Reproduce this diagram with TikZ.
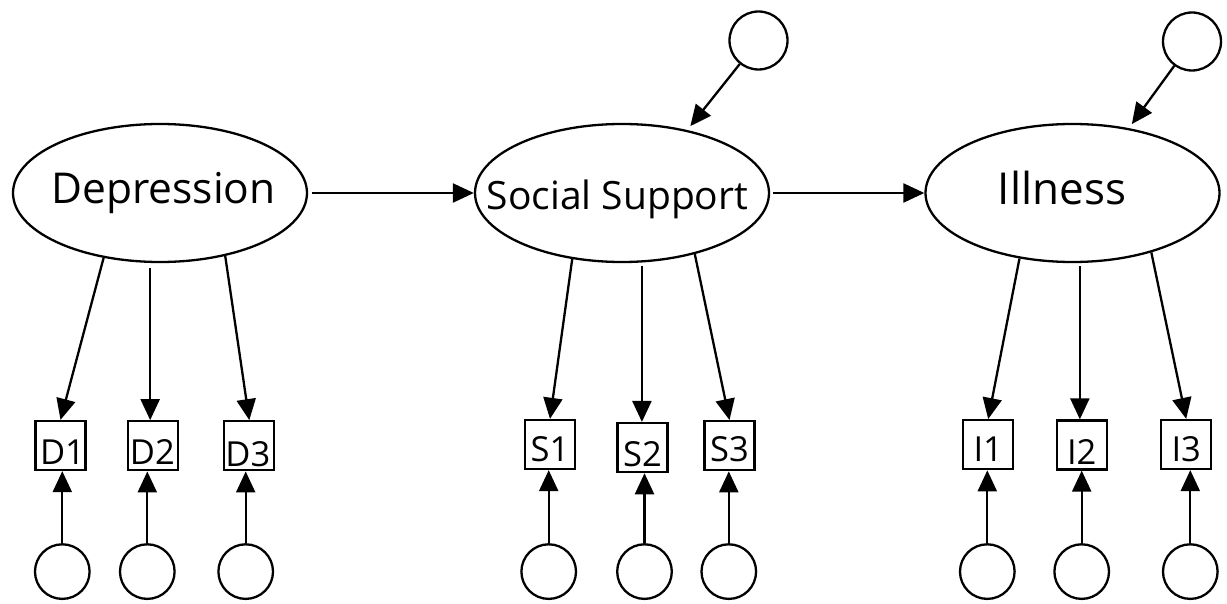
\documentclass[tikz,border=0pt]{standalone}
\usepackage{fontspec}
\setmainfont{Open Sans}
\usetikzlibrary{arrows.meta,shapes.geometric}
\newcommand{\lbltxt}[3]{\raisebox{#2}[0pt][0pt]{\makebox[0pt]{\hspace*{#1}#3}}}
\begin{document}
\begin{tikzpicture}[x=1pt,y=-1pt,line width=2.3pt,
  lat/.style={draw,ellipse,inner sep=0pt,minimum width=294pt,minimum height=138pt},
  obs/.style={draw,rectangle,inner sep=0pt,minimum width=50pt,minimum height=49pt,font=\fontsize{34.5}{34.5}\selectfont},
  err/.style={draw,circle,inner sep=0pt,minimum size=54.6pt},
  derr/.style={draw,circle,inner sep=0pt,minimum size=58pt},
  arr/.style={-{Triangle[length=21pt,width=19pt]}}]
\useasboundingbox (0,0) rectangle (1227,604);

% latent variables
\node[lat,font=\fontsize{42.5}{42.5}\selectfont] (dep) at (160,193) {\lbltxt{7pt}{-11pt}{Depression}};
\node[lat,font=\fontsize{39}{39}\selectfont] (ss) at (622,193) {\lbltxt{-9pt}{-17pt}{Social Support}};
\node[lat,font=\fontsize{44}{44}\selectfont] (ill) at (1072.5,193) {\lbltxt{-21pt}{-12pt}{Illness}};

% disturbances
\node[derr] (zss) at (758.5,40.5) {};
\node[derr] (zill) at (1192,41.5) {};

% indicators
\node[obs] (d1) at (60.5,445.5) {\lbltxt{4pt}{-18.8pt}{D1}};
\node[obs] (d2) at (153.3,445.8) {\lbltxt{-2pt}{-18.5pt}{D2}};
\node[obs] (d3) at (249.3,445.8) {\lbltxt{-3pt}{-21pt}{D3}};
\node[obs] (s1) at (550,444.5) {\lbltxt{0pt}{-17pt}{S1}};
\node[obs] (s2) at (642.5,447.6) {\lbltxt{0pt}{-18.4pt}{S2}};
\node[obs] (s3) at (729.5,445.7) {\lbltxt{0pt}{-16pt}{S3}};
\node[obs] (i1) at (988.2,444.7) {\lbltxt{0pt}{-17pt}{I1}};
\node[obs] (i2) at (1081.7,445) {\lbltxt{0pt}{-19pt}{I2}};
\node[obs] (i3) at (1186.2,444.5) {\lbltxt{0pt}{-17pt}{I3}};

% measurement errors
\node[err] (ed1) at (62.3,571.6) {};
\node[err] (ed2) at (147.3,571.6) {};
\node[err] (ed3) at (245.7,571.6) {};
\node[err] (es1) at (548.7,571.6) {};
\node[err] (es2) at (644.5,571.6) {};
\node[err] (es3) at (728.8,571.6) {};
\node[err] (ei1) at (987.3,571.6) {};
\node[err] (ei2) at (1081.7,571.6) {};
\node[err] (ei3) at (1190.3,571.6) {};

% structural paths
\draw[arr,shorten <=4pt] (dep.east) -- (ss.west);
\draw[arr,shorten <=3pt] (ss.east) -- (ill.west);
\draw[arr,shorten >=5pt] (zss) -- (ss.44);
\draw[arr,shorten >=5pt] (zill) -- (ill.49);

% loadings
\draw[arr] (dep.-131) -- (d1.north);
\draw[arr,shorten <=5pt] (dep.-98) -- (dep.-98 |- d2.north);
\draw[arr] (dep.-44) -- (d3.north);
\draw[arr] (ss.-127) -- (s1.north);
\draw[arr,shorten <=3pt] (ss.-74) -- (ss.-74 |- s2.north);
\draw[arr] (ss.-40) -- (s3.north);
\draw[arr] (ill.-129) -- (i1.north);
\draw[arr,shorten <=3pt] (ill.-84) -- (ill.-84 |- i2.north);
\draw[arr] (ill.-37) -- (i3.north);

% error paths
\foreach \e/\b in {ed1/d1,ed2/d2,ed3/d3,es1/s1,es2/s2,es3/s3,ei1/i1,ei2/i2,ei3/i3}
  \draw[arr] (\e.north) -- (\b.south -| \e.north);
\end{tikzpicture}
\end{document}
